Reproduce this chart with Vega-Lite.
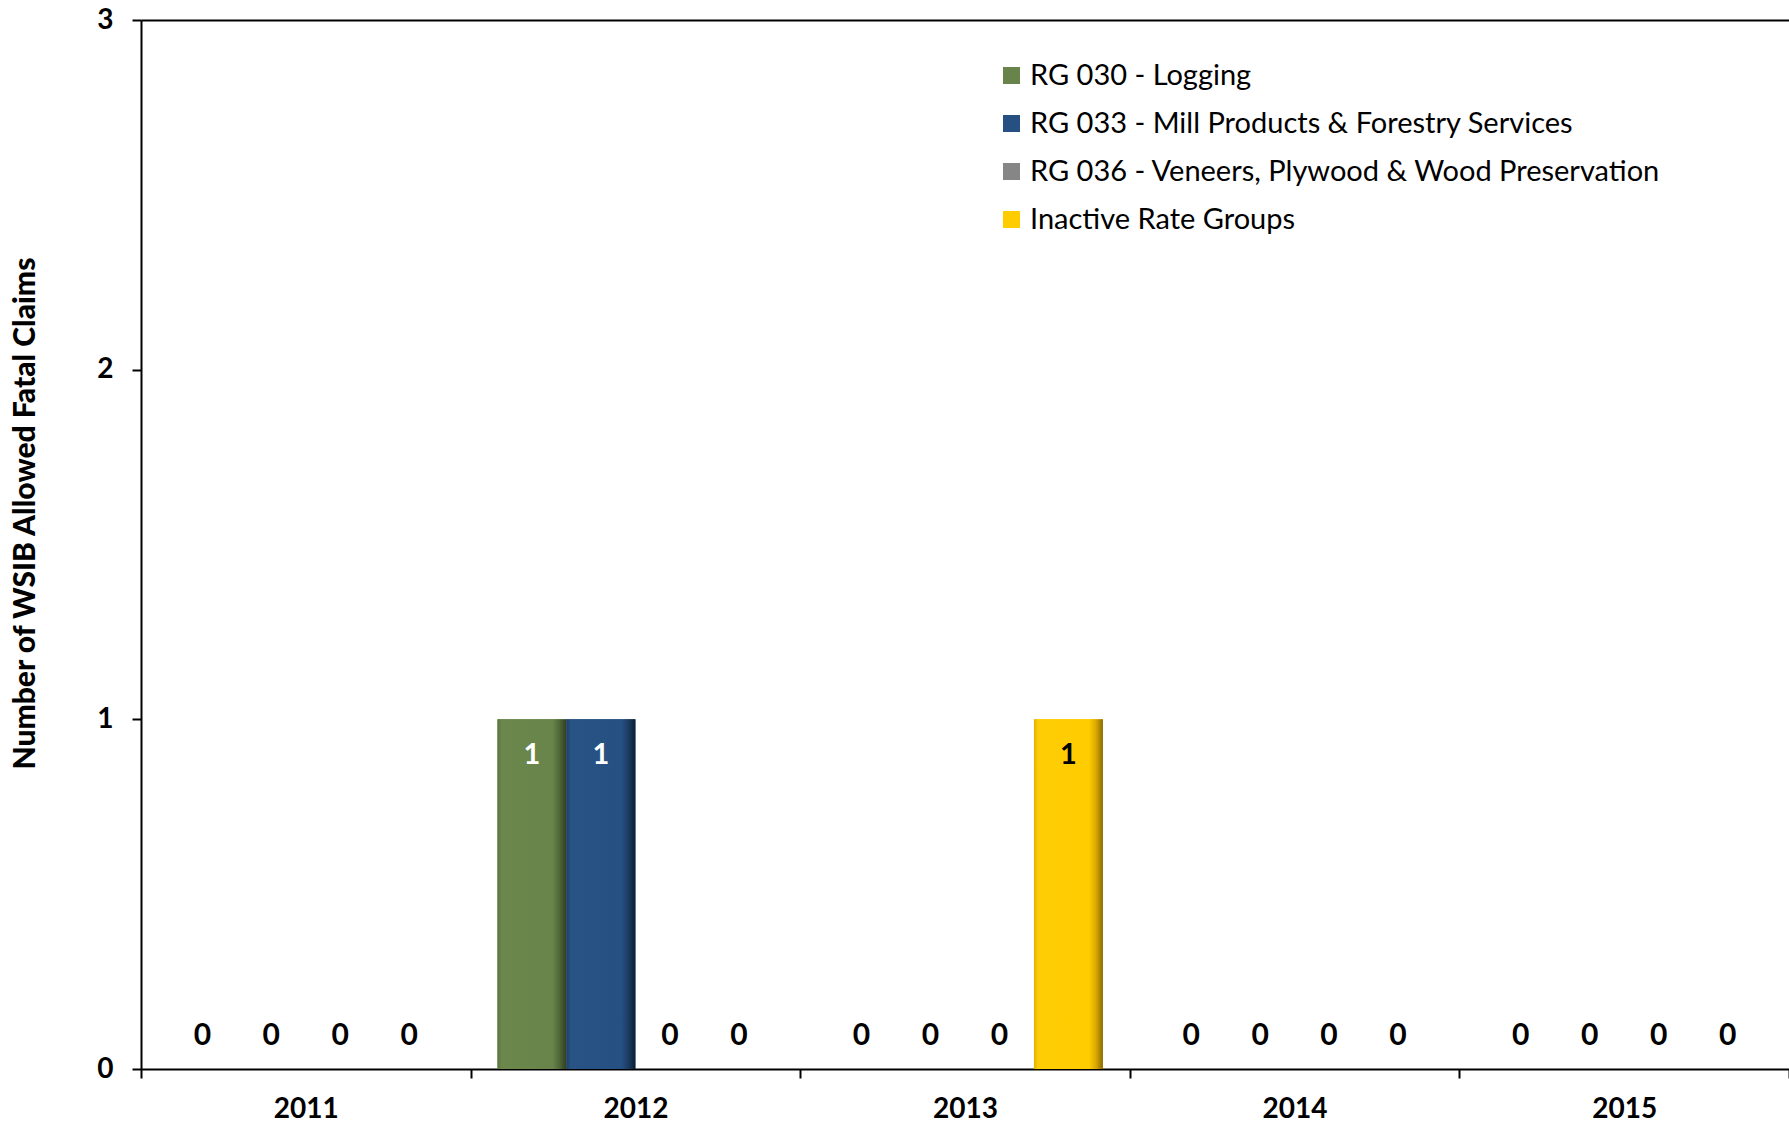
{
  "$schema": "https://vega.github.io/schema/vega-lite/v6.json",
  "width": 1648,
  "height": 1049,
  "autosize": {"type": "none"},
  "padding": {"left": 141, "top": 20, "right": 0, "bottom": 57},
  "background": "white",
  "config": {
    "view": {"stroke": null},
    "font": "Lato",
    "legend": {
      "orient": "none",
      "legendX": 856,
      "legendY": 41,
      "symbolType": "square",
      "symbolSize": 289,
      "symbolStrokeWidth": 0,
      "labelFont": "Lato",
      "labelFontSize": 29,
      "labelColor": "black",
      "labelOffset": 4,
      "rowPadding": 18,
      "labelLimit": 1000
    }
  },
  "data": {
    "values": [
      {"year": "2011", "series": "RG 030 - Logging", "value": 0},
      {"year": "2011", "series": "RG 033 - Mill Products & Forestry Services", "value": 0},
      {"year": "2011", "series": "RG 036 - Veneers, Plywood & Wood Preservation", "value": 0},
      {"year": "2011", "series": "Inactive Rate Groups", "value": 0},
      {"year": "2012", "series": "RG 030 - Logging", "value": 1},
      {"year": "2012", "series": "RG 033 - Mill Products & Forestry Services", "value": 1},
      {"year": "2012", "series": "RG 036 - Veneers, Plywood & Wood Preservation", "value": 0},
      {"year": "2012", "series": "Inactive Rate Groups", "value": 0},
      {"year": "2013", "series": "RG 030 - Logging", "value": 0},
      {"year": "2013", "series": "RG 033 - Mill Products & Forestry Services", "value": 0},
      {"year": "2013", "series": "RG 036 - Veneers, Plywood & Wood Preservation", "value": 0},
      {"year": "2013", "series": "Inactive Rate Groups", "value": 1},
      {"year": "2014", "series": "RG 030 - Logging", "value": 0},
      {"year": "2014", "series": "RG 033 - Mill Products & Forestry Services", "value": 0},
      {"year": "2014", "series": "RG 036 - Veneers, Plywood & Wood Preservation", "value": 0},
      {"year": "2014", "series": "Inactive Rate Groups", "value": 0},
      {"year": "2015", "series": "RG 030 - Logging", "value": 0},
      {"year": "2015", "series": "RG 033 - Mill Products & Forestry Services", "value": 0},
      {"year": "2015", "series": "RG 036 - Veneers, Plywood & Wood Preservation", "value": 0},
      {"year": "2015", "series": "Inactive Rate Groups", "value": 0}
    ]
  },
  "encoding": {
    "x": {
      "field": "year",
      "type": "nominal",
      "scale": {"paddingInner": 0, "paddingOuter": 0},
      "axis": {
        "title": null,
        "labelAngle": 0,
        "labelFont": "Lato",
        "labelFontSize": 28,
        "labelFontWeight": "bold",
        "labelColor": "black",
        "labelPadding": 17,
        "tickBand": "extent",
        "tickSize": 9,
        "tickWidth": 2,
        "tickColor": "black",
        "domainColor": "black",
        "domainWidth": 2
      }
    },
    "xOffset": {
      "field": "series",
      "type": "nominal",
      "sort": ["RG 030 - Logging", "RG 033 - Mill Products & Forestry Services", "RG 036 - Veneers, Plywood & Wood Preservation", "Inactive Rate Groups"],
      "scale": {"paddingInner": 0, "paddingOuter": 0.39}
    },
    "y": {
      "field": "value",
      "type": "quantitative",
      "scale": {"domain": [0, 3], "nice": false},
      "axis": {
        "values": [0, 1, 2, 3],
        "format": "d",
        "title": "Number of WSIB Allowed Fatal Claims",
        "titleFont": "Lato",
        "titleFontSize": 30,
        "titleFontWeight": 900,
        "titleColor": "black",
        "titleAngle": -90,
        "titleX": -116,
        "titleY": 493,
        "titleAlign": "center",
        "titleBaseline": "middle",
        "labelFont": "Lato",
        "labelFontSize": 28,
        "labelFontWeight": "bold",
        "labelColor": "black",
        "labelPadding": 19,
        "tickSize": 9,
        "tickWidth": 2,
        "tickColor": "black",
        "domainColor": "black",
        "domainWidth": 2,
        "grid": true,
        "gridWidth": 2,
        "gridColor": {"condition": {"test": "datum.value === 3", "value": "black"}, "value": "transparent"}
      }
    }
  },
  "layer": [
    {
      "mark": {"type": "bar"},
      "encoding": {
        "color": {
          "field": "series",
          "type": "nominal",
          "title": null,
          "scale": {
            "domain": ["RG 030 - Logging", "RG 033 - Mill Products & Forestry Services", "RG 036 - Veneers, Plywood & Wood Preservation", "Inactive Rate Groups"],
            "range": ["#68844a", "#265082", "#868686", "#ffcc00"]
          }
        }
      }
    },
    {
      "transform": [{"filter": "datum.series === 'RG 030 - Logging'"}],
      "mark": {
        "type": "bar",
        "color": {"gradient": "linear", "x1": 0, "y1": 0, "x2": 1, "y2": 0, "stops": [
          {"offset": 0, "color": "#5a743e"},
          {"offset": 0.06, "color": "#6b874c"},
          {"offset": 0.8, "color": "#68844a"},
          {"offset": 0.9, "color": "#4f6738"},
          {"offset": 1, "color": "#2f3d20"}
        ]}
      },
      "encoding": {}
    },
    {
      "transform": [{"filter": "datum.series === 'RG 033 - Mill Products & Forestry Services'"}],
      "mark": {
        "type": "bar",
        "color": {"gradient": "linear", "x1": 0, "y1": 0, "x2": 1, "y2": 0, "stops": [
          {"offset": 0, "color": "#1d3f68"},
          {"offset": 0.06, "color": "#285385"},
          {"offset": 0.8, "color": "#265082"},
          {"offset": 0.9, "color": "#1b3b62"},
          {"offset": 1, "color": "#0c1d33"}
        ]}
      },
      "encoding": {}
    },
    {
      "transform": [{"filter": "datum.series === 'Inactive Rate Groups'"}],
      "mark": {
        "type": "bar",
        "color": {"gradient": "linear", "x1": 0, "y1": 0, "x2": 1, "y2": 0, "stops": [
          {"offset": 0, "color": "#e0b000"},
          {"offset": 0.06, "color": "#ffcd05"},
          {"offset": 0.8, "color": "#ffcc00"},
          {"offset": 0.9, "color": "#d9a800"},
          {"offset": 1, "color": "#8a6a00"}
        ]}
      },
      "encoding": {}
    },
    {
      "transform": [{"filter": "datum.value > 0"}],
      "mark": {"type": "text", "dy": 36, "fontSize": 29, "fontWeight": "bold", "font": "Lato", "baseline": "middle", "align": "center"},
      "encoding": {
        "text": {"field": "value", "type": "quantitative"},
        "color": {"condition": {"test": "datum.series === 'Inactive Rate Groups'", "value": "black"}, "value": "white"}
      }
    },
    {
      "transform": [{"filter": "datum.value === 0"}],
      "mark": {"type": "text", "dy": -33, "fontSize": 30, "fontWeight": "bold", "font": "Lato", "baseline": "middle", "align": "center", "color": "black"},
      "encoding": {
        "text": {"field": "value", "type": "quantitative"}
      }
    }
  ]
}
